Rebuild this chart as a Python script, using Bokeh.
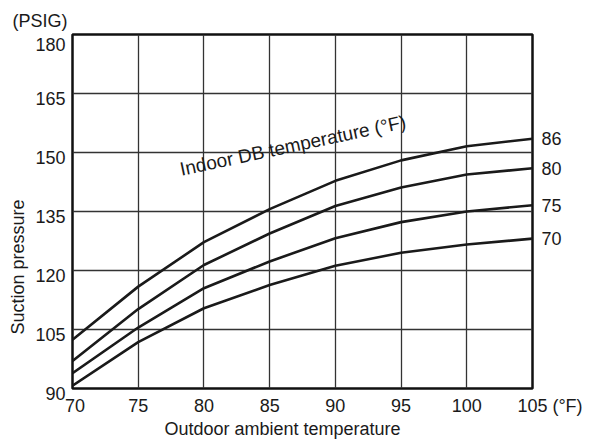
from bokeh.plotting import figure
from bokeh.models import Range1d, FixedTicker, Label, LinearAxis, Title
from bokeh.embed import file_html
from bokeh.resources import INLINE

# ---- data ----
outdoor_temp = [70, 75, 80, 85, 90, 95, 100, 105]
suction_86 = [102.4, 115.9, 127.2, 135.6, 142.8, 148.0, 151.6, 153.5]
suction_80 = [97.0, 110.2, 121.4, 129.4, 136.4, 141.1, 144.4, 146.0]
suction_75 = [93.9, 105.5, 115.5, 122.3, 128.2, 132.3, 135.0, 136.6]
suction_70 = [90.7, 101.8, 110.4, 116.3, 121.2, 124.5, 126.6, 128.1]
indoor_labels = ["86", "80", "75", "70"]
x_ticks = [70, 75, 80, 85, 90, 95, 100, 105]
y_ticks = [90, 105, 120, 135, 150, 165, 180]

FONT = "Liberation Sans"
FS = "18px"
TXT = "#1a1a1a"
NB = "\u00a0"

p = figure(width=591, height=440, output_backend="svg", toolbar_location=None,
           x_range=Range1d(70, 105), y_range=Range1d(90, 180),
           min_border_left=70, min_border_right=59, min_border_top=34, min_border_bottom=49)
p.background_fill_color = "white"
p.border_fill_color = "white"
p.outline_line_color = "#111111"
p.outline_line_width = 2.5

p.xaxis.ticker = FixedTicker(ticks=x_ticks)
p.yaxis.ticker = FixedTicker(ticks=y_ticks)
p.xaxis.major_label_overrides = {70: NB + "70", 105: NB * 7 + "105 (°F)"}
# y labels sit a little below their grid lines (the top one more so, under the unit label)
y_over = {t: "\n" + str(t) for t in y_ticks}
y_over[y_ticks[-1]] = "\n\n" + str(y_ticks[-1])
p.yaxis.major_label_overrides = y_over


def style_axis(ax):
    ax.axis_line_color = None
    ax.major_tick_line_color = None
    ax.minor_tick_line_color = None
    ax.major_tick_out = 0
    ax.major_tick_in = 0
    ax.major_label_text_font = FONT
    ax.major_label_text_font_size = FS
    ax.major_label_text_color = TXT


style_axis(p.xaxis[0])
style_axis(p.yaxis[0])
p.xaxis.major_label_standoff = 7
p.yaxis.major_label_standoff = 7
p.yaxis.major_label_text_line_height = 0.5

# right-hand labels of the indoor temperature curves
ends = [suction_86[-1], suction_80[-1], suction_75[-1], suction_70[-1]]
right_axis = LinearAxis(ticker=FixedTicker(ticks=ends),
                        major_label_overrides={e: t for e, t in zip(ends, indoor_labels)})
style_axis(right_axis)
right_axis.major_label_standoff = 9
p.add_layout(right_axis, "right")

p.xgrid.grid_line_color = "#333333"
p.ygrid.grid_line_color = "#333333"
p.xgrid.grid_line_width = 1.3
p.ygrid.grid_line_width = 1.3

for series in (suction_86, suction_80, suction_75, suction_70):
    p.line(outdoor_temp, series, line_color="#1a1a1a", line_width=2.6, line_join="round")

p.add_layout(Label(x=78.2, y=145.7, text="Indoor DB temperature (°F)", angle=12, angle_units="deg",
                   text_align="left", text_baseline="alphabetic",
                   text_font=FONT, text_font_size="19px", text_color=TXT))

# unit label at the top left
p.title.text = "(PSIG)"
p.title.align = "left"
p.title.offset = -60
p.title.standoff = 8
p.title.text_font = FONT
p.title.text_font_size = FS
p.title.text_font_style = "normal"
p.title.text_color = TXT

p.add_layout(Title(text="Outdoor ambient temperature", align="left", offset=92, standoff=0,
                   vertical_align="top", text_font=FONT, text_font_size=FS,
                   text_font_style="normal", text_color=TXT), "below")

p.add_layout(Title(text="Suction pressure", align="left", offset=54, standoff=10,
                   text_font=FONT, text_font_size=FS,
                   text_font_style="normal", text_color=TXT), "left")

open("out.html", "w").write(file_html(p, INLINE))
